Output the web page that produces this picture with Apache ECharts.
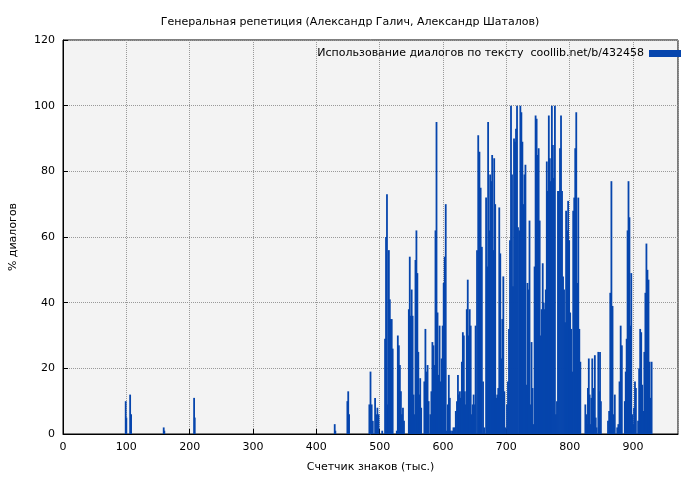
<!DOCTYPE html>
<html>
<head>
<meta charset="utf-8">
<script src="https://cdn.jsdelivr.net/npm/echarts@6/dist/echarts.min.js"></script>
<style>html,body{margin:0;background:#fff}#c{width:700px;height:480px}</style>
</head>
<body>
<div id="c"></div>
<script>
// each segment: [from, to]
const segments = [
  [99, 101, [10, 5]],
  [106, 109, [12, 6]],
  [159, 161, [2, 1]],
  [207, 209, [11, 5]],
  [429, 431, [3, 1]],
  [449, 453, [10, 13, 6]],
  [483.7, 500, [9, 19, 9, 4, 0, 11, 6, 8, 6]],
  [504, 522, [1, 0, 0, 29, 60, 73, 9, 56, 41, 35, 35, 26]],
  [527, 540, [1, 30, 27, 21, 13, 6, 8, 4]],
  [546, 567, [38, 54, 36, 44, 36, 12, 6, 53, 62, 49, 25, 12, 17, 8]],
  [570.5, 579, [16, 32, 19, 21, 10]],
  [580, 614, [6, 13, 28, 27, 21, 62, 95, 37, 18, 33, 16, 23, 33, 46, 54, 70, 1, 9, 18, 11, 1]],
  [614.7, 622, [1, 2, 2, 7]],
  [622, 653, [10, 18, 12, 13, 11, 22, 31, 30, 13, 9, 38, 47, 30, 38, 33, 6, 9, 12, 9, 33]],
  [653.7, 667, [56, 91, 86, 75, 57, 16, 2]],
  [668, 700, [72, 51, 95, 62, 79, 77, 85, 56, 84, 70, 11, 12, 14, 69, 55, 23, 35, 48, 13, 2]],
  [701, 720, [9, 16, 32, 59, 100, 79, 45, 90, 89, 93, 100, 63]],
  [720.5, 820, [62, 100, 98, 89, 70, 79, 82, 15, 46, 44, 65, 9, 28, 14, 3, 51, 97, 96, 85, 87, 65, 30, 38, 52, 40, 38, 44, 83, 74, 97, 84, 77, 100, 88, 78, 100, 6, 10, 74, 74, 87, 97, 74, 48, 44, 34, 68, 62, 71, 59, 37, 32, 19, 68, 72, 87, 98, 46, 72, 32, 22, 0]],
  [824.7, 852, [9, 6, 3, 14, 23, 12, 3, 11, 23, 14, 7, 24, 5, 2, 0, 25, 13, 25, 10, 0]],
  [860.5, 873, [4, 7, 43, 77, 39, 6, 12]],
  [875, 886, [2, 3, 16, 33, 27, 0]],
  [887, 906, [10, 19, 29, 62, 77, 66, 33, 49, 6, 3, 8, 16, 14]],
  [908, 931, [4, 20, 32, 31, 15, 7, 25, 43, 58, 50, 47, 22, 11, 22]]
];
const seriesName = 'Использование диалогов по тексту  coollib.net/b/432458';

const points = [];
segments.forEach(([a, b, vals]) => {
  const step = (b - a) / vals.length;
  vals.forEach((v, i) => points.push([a + i * step, v]));
});

const font = 'DejaVu Sans';
const chart = echarts.init(document.getElementById('c'));
chart.setOption({
  animation: false,
  backgroundColor: '#fff',
  textStyle: { fontFamily: font },
  title: {
    text: 'Генеральная репетиция (Александр Галич, Александр Шаталов)',
    left: 'center', top: 12,
    textStyle: { fontSize: 11, fontWeight: 'normal', color: '#000', fontFamily: font }
  },
  legend: {
    right: 14, top: 43, align: 'right', itemWidth: 32, itemHeight: 7, itemGap: 5,
    textStyle: { fontSize: 11, color: '#000', fontFamily: font },
    data: [{ name: seriesName, icon: 'rect' }]
  },
  grid: {
    left: 60, right: 22, top: 40, bottom: 46, show: true,
    backgroundColor: '#f3f3f3', borderColor: '#000', borderWidth: 1
  },
  xAxis: {
    type: 'value', min: 0, max: 971, interval: 100,
    name: 'Счетчик знаков (тыс.)', nameLocation: 'middle', nameGap: 28,
    nameTextStyle: { fontSize: 11, color: '#000' },
    axisLine: { lineStyle: { color: '#000' } },
    axisTick: { inside: true, length: 5, lineStyle: { color: '#000' } },
    axisLabel: { fontSize: 11, color: '#000', showMaxLabel: false },
    splitLine: { lineStyle: { color: '#999', type: 'dotted' } }
  },
  yAxis: {
    type: 'value', min: 0, max: 120, interval: 20,
    name: '% диалогов', nameLocation: 'middle', nameGap: 44,
    nameTextStyle: { fontSize: 11, color: '#000' },
    axisLine: { show: true, lineStyle: { color: '#000' } },
    axisTick: { show: true, inside: true, length: 5, lineStyle: { color: '#000' } },
    axisLabel: { fontSize: 11, color: '#000' },
    splitLine: { lineStyle: { color: '#999', type: 'dotted' } }
  },
  series: [{
    name: seriesName, type: 'bar', data: points,
    barWidth: 1.8, itemStyle: { color: '#0645ad' }
  }]
});
</script>
</body>
</html>
